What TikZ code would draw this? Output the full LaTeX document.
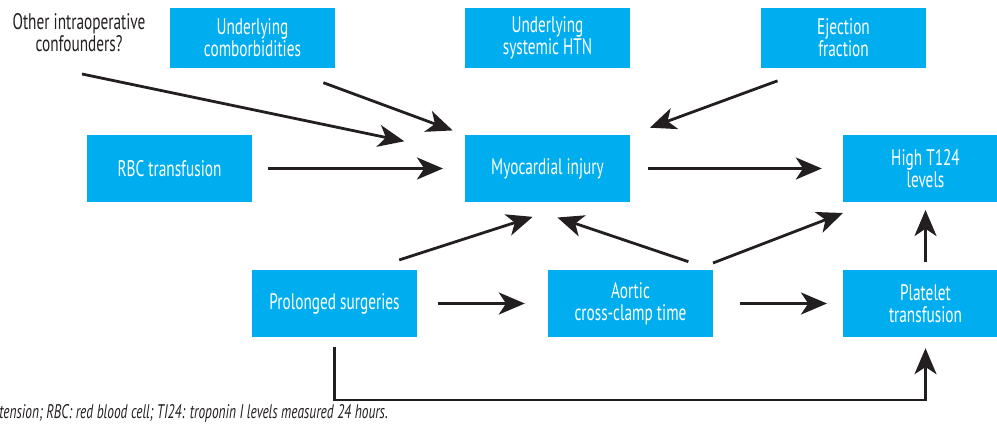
\documentclass[tikz,border=0pt]{standalone}
\usepackage{fontspec}
\setmainfont{PT Sans}[FakeStretch=0.68]
\usepackage{tikz}
\usetikzlibrary{arrows.meta,calc}
\definecolor{boxblue}{HTML}{00AEEF}
\definecolor{ink}{HTML}{231F20}
\tikzset{
    x=0.25mm,
    y=-0.25mm,
    box/.style = {
        fill=boxblue,
        shape=rectangle,
        text=white,
        align=center,
        inner sep=0pt,
        outer sep=0pt,
        minimum width=41.25mm,
        minimum height=16.75mm,
        font=\fontsize{16pt}{15.5pt}\selectfont
    },
    topbox/.style = {
        box,
        minimum height=15mm
    },
    label/.style = {
        shape=rectangle,
        text=ink,
        align=center,
        inner sep=0pt,
        font=\fontsize{16pt}{15.5pt}\selectfont
    },
    link/.style = {
        draw=ink,
        line width=0.7mm,
        -{Stealth[length=6.5mm,width=5.5mm,inset=1.8mm]}
    },
}
\begin{document}
\begin{tikzpicture}
            \useasboundingbox (0,0) rectangle (997,429);

            \node[label] (oth) at (79,33) {Other intraoperative\\confounders?};
            \node[topbox] (com) at (252.5,38) {Underlying\\comborbidities};
            \node[topbox] (htn) at (547.5,38) {Underlying\\systemic HTN};
            \node[topbox] (ejc) at (843.5,38) {Ejection\\fraction};
            \node[box] (rbc) at (169.5,168.5) {RBC transfusion};
            \node[box] (mi) at (547.5,168.5) {Myocardial injury};
            \node[box] (hig) at (925.5,168.5) {High T124\\levels};
            \node[box] (pro) at (334.5,303.5) {Prolonged surgeries};
            \node[box] (aor) at (630.5,303.5) {Aortic\\cross-clamp time};
            \node[box] (pla) at (925.5,303.5) {Platelet\\transfusion};
            \node[label, anchor=base west, font=\fontsize{14pt}{15pt}\selectfont\itshape] (note) at (-1,418)
                {tension; RBC: red blood cell; TI24: troponin I levels measured 24 hours.};

            % into myocardial injury
            \coordinate (othtail) at (82,74);
            \path[link, shorten >=15.5mm] (othtail) -- (mi.170);
            \path[link, shorten <=10.6mm, shorten >=3.3mm] (com.-44) -- (mi.north west);
            \path[link, shorten <=9.3mm, shorten >=5.3mm] (ejc.224) -- (mi.north east);
            \path[link, shorten <=4mm, shorten >=5.5mm] (rbc.east) -- (mi.west);
            \path[link, shorten <=8.2mm, shorten >=12.1mm] (pro.45) -- (mi.-47);
            \path[link, shorten <=6.5mm, shorten >=12.1mm] (aor.north east) -- (mi.-137);

            % into high levels
            \path[link, shorten <=4.5mm, shorten >=5.3mm] (mi.east) -- (hig.west);
            \path[link] ($(aor.north east)+(0,-7)$) -- ($(hig.south west)+(0,11)$);
            \path[link, shorten <=2mm, shorten >=2mm] (pla.north) -- (hig.south);

            % bottom row
            \path[link, shorten <=5.3mm, shorten >=5.8mm] (pro.east) -- (aor.west);
            \path[link, shorten <=6.8mm, shorten >=4mm] (aor.east) -- (pla.west);
            \path[link, shorten <=2.5mm, shorten >=2.8mm] (pro.south) -- ++(0,63) -| (pla.south);
        \end{tikzpicture}
\end{document}
